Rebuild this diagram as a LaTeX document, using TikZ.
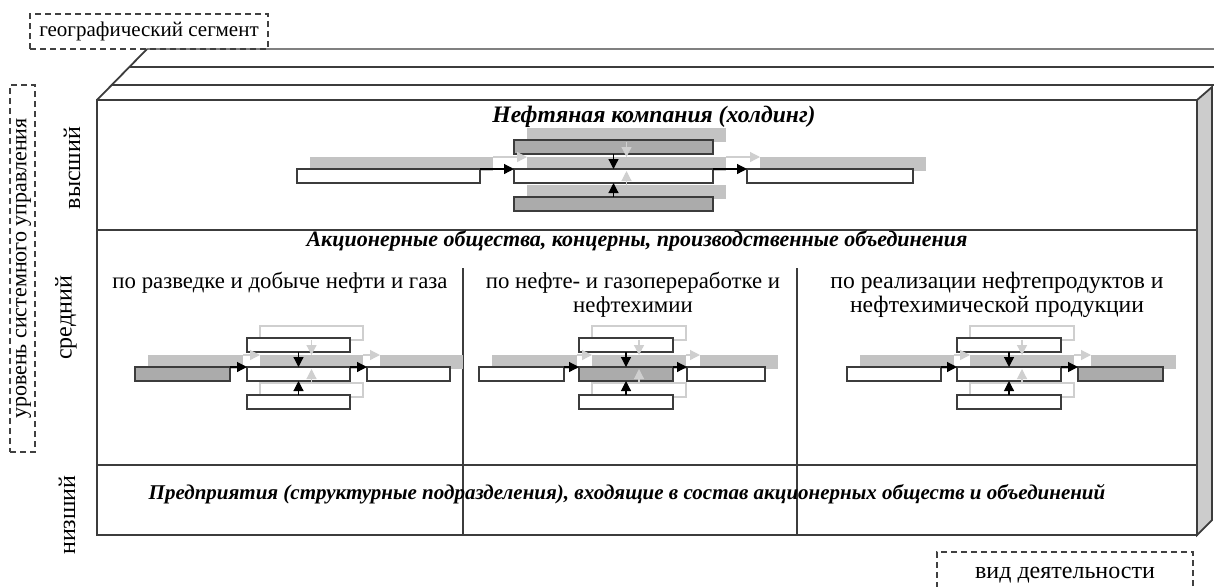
\documentclass[tikz,border=0pt]{standalone}
\usepackage{fontspec}
\setmainfont{Liberation Serif}
\usetikzlibrary{arrows.meta,fit}
\definecolor{boxgray}{HTML}{ABABAB}
\definecolor{bargray}{HTML}{C3C3C3}
\definecolor{lgray}{HTML}{CFCFCF}
\definecolor{edge}{HTML}{3C3C3C}
\definecolor{sideface}{HTML}{CCCCCC}
\definecolor{dashc}{HTML}{404040}
\tikzset{
  bxbase/.style={rectangle, inner sep=0pt, outer sep=0pt, draw=edge, line width=0.9pt},
  wbox/.style={bxbase, fill=white},
  dbox/.style={bxbase, fill=boxgray},
  sbar/.style={rectangle, inner sep=0pt, outer sep=0pt, fill=bargray, draw=none},
  obar/.style={rectangle, inner sep=0pt, outer sep=0pt, fill=white, draw=lgray, line width=0.7pt},
  barr/.style={-{Triangle[length=5pt,width=5pt]}, line width=0.6pt, black},
  larr/.style={-{Triangle[length=5pt,width=5pt]}, line width=0.6pt, lgray},
  frame/.style={draw=edge, line width=1pt},
  dashbox/.style={draw=dashc, dash pattern=on 3pt off 2pt, line width=0.6pt, inner sep=0pt},
  ttl/.style={font=\fontsize{11.8}{13}\selectfont\bfseries\itshape, inner sep=0pt},
  sub/.style={font=\fontsize{11.4}{12.2}\selectfont, inner sep=0pt, align=center},
  lvl/.style={font=\fontsize{12}{13}\selectfont, inner sep=0pt, rotate=90},
  lsty/.style={wbox}, csty/.style={wbox}, rsty/.style={wbox}, tsty/.style={dbox},
  shside/.style={sbar}, shcen/.style={sbar}, shtb/.style={sbar}
}
% #1 prefix, #2 y0, #3 lx1, #4 lx2, #5 cx1, #6 cx2, #7 rx1, #8 rx2
\newcommand\flowgrp[8]{%
  \node[shside, fit={(#3+13,#2+17) (#4+13,#2+31)}] (#1Ls) {};
  \node[shside, fit={(#7+13,#2+17) (#8+13,#2+31)}] (#1Rs) {};
  \node[shcen, fit={(#5+13,#2+17) (#6+13,#2+31)}] (#1Cs) {};
  \node[shtb, fit={(#5+13,#2-12) (#6+13,#2+2)}] (#1Ts) {};
  \node[shtb, fit={(#5+13,#2+45) (#6+13,#2+59)}] (#1Bs) {};
  \node[lsty, fit={(#3,#2+29) (#4,#2+43)}] (#1L) {};
  \node[csty, fit={(#5,#2+29) (#6,#2+43)}] (#1C) {};
  \node[rsty, fit={(#7,#2+29) (#8,#2+43)}] (#1R) {};
  \node[tsty, fit={(#5,#2) (#6,#2+14)}] (#1T) {};
  \node[tsty, fit={(#5,#2+57) (#6,#2+71)}] (#1B) {};
  \draw[larr] (#1Ls.north east) -- (#1Cs.north west);
  \draw[larr] (#1Cs.north east) -- (#1Rs.north west);
  \draw[larr] (#1Ts.south) -- (#1Cs.north);
  \draw[larr] (#1Bs.north) -- (#1Cs.south);
  \draw[barr] (#1L.north east) -- (#1C.north west);
  \draw[barr] (#1C.north east) -- (#1R.north west);
  \draw[barr] (#1T.south) -- (#1C.north);
  \draw[barr] (#1B.north) -- (#1C.south);
}
\begin{document}
\begin{tikzpicture}[x=0.5pt,y=-0.5pt]
\useasboundingbox (0,0) rectangle (1214,586);
% background planes
\draw[line width=1pt, draw=gray] (147,49) -- (1214,49);
\draw[line width=0.9pt, draw=edge] (129,67) -- (1214,67);
\draw[line width=0.9pt, draw=edge] (111,85) -- (1214,85);
\draw[line width=0.9pt, draw=edge] (97,100) -- (147,49);
% side face
\filldraw[fill=sideface, draw=edge, line width=0.9pt] (1197,100) -- (1212,87) -- (1212,520) -- (1197,535) -- cycle;
% front
\filldraw[fill=white, frame] (97,100) rectangle (1197,535);
\draw[frame] (97,230) -- (1197,230);
\draw[frame] (97,465) -- (1197,465);
\draw[frame] (463,268) -- (463,535);
\draw[frame] (797,268) -- (797,535);
% top flow (holding)
\flowgrp{h}{140}{297}{480}{514}{713}{747}{913}
% middle flows
\begin{scope}[lsty/.style={dbox}, tsty/.style={wbox}, shtb/.style={obar}]
\flowgrp{a}{338}{135}{230}{247}{350}{367}{450}
\end{scope}
\begin{scope}[csty/.style={dbox}, tsty/.style={wbox}, shtb/.style={obar}]
\flowgrp{b}{338}{479}{564}{579}{673}{687}{765}
\end{scope}
\begin{scope}[rsty/.style={dbox}, tsty/.style={wbox}, shtb/.style={obar}]
\flowgrp{c}{338}{847}{941}{957}{1061}{1078}{1163}
\end{scope}
% texts
\node[ttl] (hold) at (654,117) {Нефтяная компания (холдинг)};
\node[ttl, font=\fontsize{11}{12}\selectfont\bfseries\itshape] (ao) at (637,241) {Акционерные общества, концерны, производственные объединения};
\node[sub] (c1) at (280,283) {по разведке и добыче нефти и газа};
\node[sub] (c2) at (633,295) {по нефте- и газопереработке и\\нефтехимии};
\node[sub, font=\fontsize{11.8}{12.2}\selectfont] (c3) at (997,295) {по реализации нефтепродуктов и\\нефтехимической продукции};
\node[ttl, font=\fontsize{10.5}{12}\selectfont\bfseries\itshape] (ent) at (627,494) {Предприятия (структурные подразделения), входящие в состав акционерных обществ и объединений};
\node[lvl] (l1) at (72,168) {высший};
\node[lvl] (l2) at (66,318) {средний};
\node[lvl] (l3) at (67,515) {низший};
% dashed labels
\node[dashbox, fit={(30,14) (268,49)}] (geo) {};
\node[font=\fontsize{10.5}{12}\selectfont, inner sep=0pt] (geot) at (geo.center) {географический сегмент};
\node[dashbox, fit={(10,85) (35,452)}] (ups) {};
\node[lvl, font=\fontsize{11}{12}\selectfont] (upst) at ([xshift=0.5pt]ups.center) {уровень системного управления};
\node[dashbox, fit={(937,552) (1193,610)}] (vid) {};
\node[font=\fontsize{12}{12}\selectfont, inner sep=0pt] (vidt) at (1065,575) {вид деятельности};
\end{tikzpicture}
\end{document}
